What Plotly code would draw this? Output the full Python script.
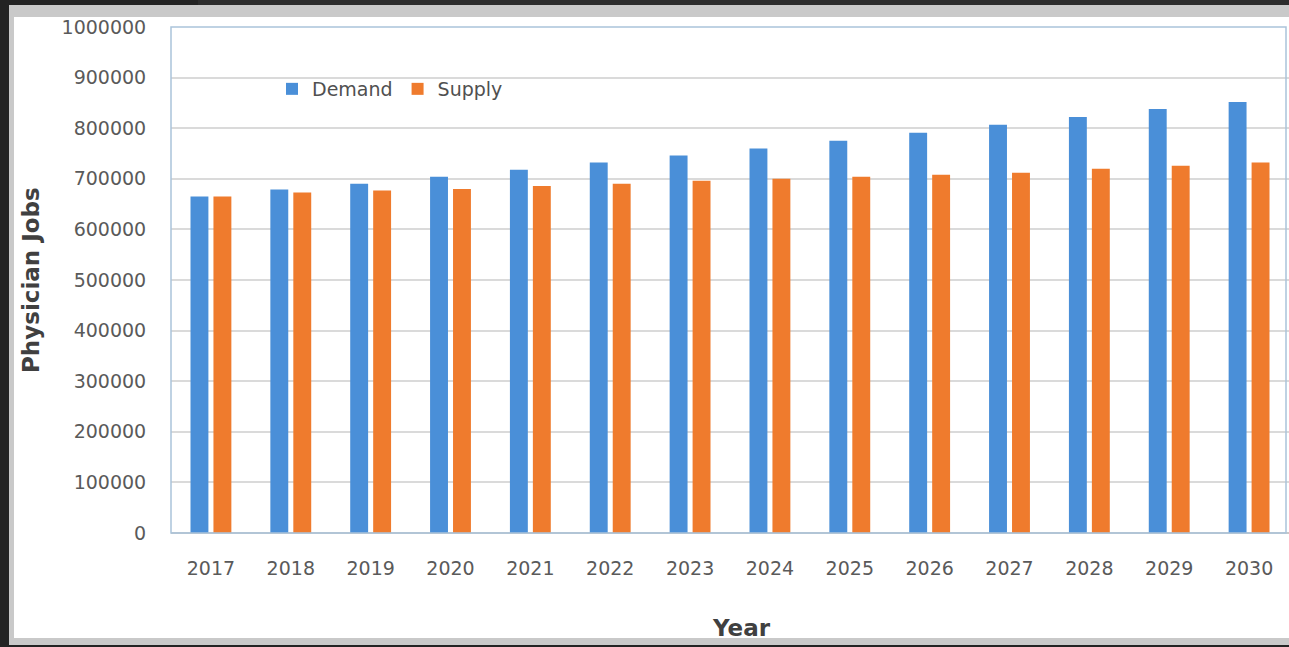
import plotly.graph_objects as go

years = ["2017", "2018", "2019", "2020", "2021", "2022", "2023",
         "2024", "2025", "2026", "2027", "2028", "2029", "2030"]
demand = [665000, 679000, 690000, 704000, 718000, 732000, 746000,
          760000, 775000, 791000, 807000, 822000, 838000, 852000]
supply = [665000, 673000, 677000, 680000, 686000, 690000, 696000,
          700000, 704000, 708000, 712000, 720000, 726000, 732000]
y_ticks = [0, 100000, 200000, 300000, 400000, 500000, 600000,
           700000, 800000, 900000, 1000000]

W, H = 1289, 647
L, R, T, B = 171, 0, 27, 114
PW, PH = W - L - R, H - T - B


def px(x):
    return (x - L) / PW


def py(y):
    return (H - B - y) / PH


fig = go.Figure()
fig.add_trace(go.Bar(name="Demand", x=years, y=demand, marker_color="#4a8fd8",
                     marker_line_width=0))
fig.add_trace(go.Bar(name="Supply", x=years, y=supply, marker_color="#ef7b2d",
                     marker_line_width=0))

tick_font = dict(family="DejaVu Sans", size=19, color="#5a5a5a")

fig.update_layout(
    width=W, height=H,
    margin=dict(l=L, r=R, t=T, b=B),
    paper_bgcolor="#232323",
    plot_bgcolor="rgba(0,0,0,0)",
    barmode="group",
    bargap=0.425,
    bargroupgap=0.22,
    showlegend=True,
    legend=dict(orientation="h", x=px(272), y=py(89), xanchor="left",
                yanchor="middle", bgcolor="rgba(0,0,0,0)",
                font=dict(family="DejaVu Sans", size=19, color="#505050"),
                itemwidth=30),
    xaxis=dict(type="category", range=[-0.5, 13.5], showgrid=False,
               showline=False, zeroline=False,
               ticks="outside", ticklen=18, tickcolor="rgba(0,0,0,0)",
               tickfont=tick_font),
    yaxis=dict(range=[0, 1000000], tickvals=y_ticks,
               ticktext=[str(v) for v in y_ticks],
               showgrid=True, gridcolor="#dadada", gridwidth=1.5,
               zeroline=True, zerolinecolor="#c8c8c8", zerolinewidth=1.5,
               showline=False,
               ticks="outside", ticklen=20, tickcolor="rgba(0,0,0,0)",
               tickfont=tick_font),
    shapes=[
        dict(type="rect", xref="paper", yref="paper", layer="below",
             x0=px(9), x1=px(W + 10), y0=py(645), y1=py(5),
             fillcolor="#c9c9c9", line_width=0),
        dict(type="rect", xref="paper", yref="paper", layer="below",
             x0=px(14), x1=px(W + 10), y0=py(638), y1=py(17),
             fillcolor="#ffffff", line_width=0),
        dict(type="rect", xref="paper", yref="paper", layer="below",
             x0=px(198), x1=px(W + 10), y0=py(5), y1=py(-5),
             fillcolor="#2c2c2c", line_width=0),
        dict(type="rect", xref="paper", yref="paper", layer="above",
             x0=0, x1=px(1286), y0=0, y1=1,
             fillcolor="rgba(0,0,0,0)", line=dict(color="#aac4da", width=1.5)),
    ],
    annotations=[
        dict(text="<b>Physician Jobs</b>", xref="paper", yref="paper",
             x=px(31), y=py(280), textangle=-90, showarrow=False,
             xanchor="center", yanchor="middle",
             font=dict(family="DejaVu Sans", size=23, color="#404040")),
        dict(text="<b>Year</b>", xref="paper", yref="paper",
             x=px(741), y=py(628), showarrow=False,
             xanchor="center", yanchor="middle",
             font=dict(family="DejaVu Sans", size=23, color="#404040")),
    ],
)

fig.write_html("out.html")
